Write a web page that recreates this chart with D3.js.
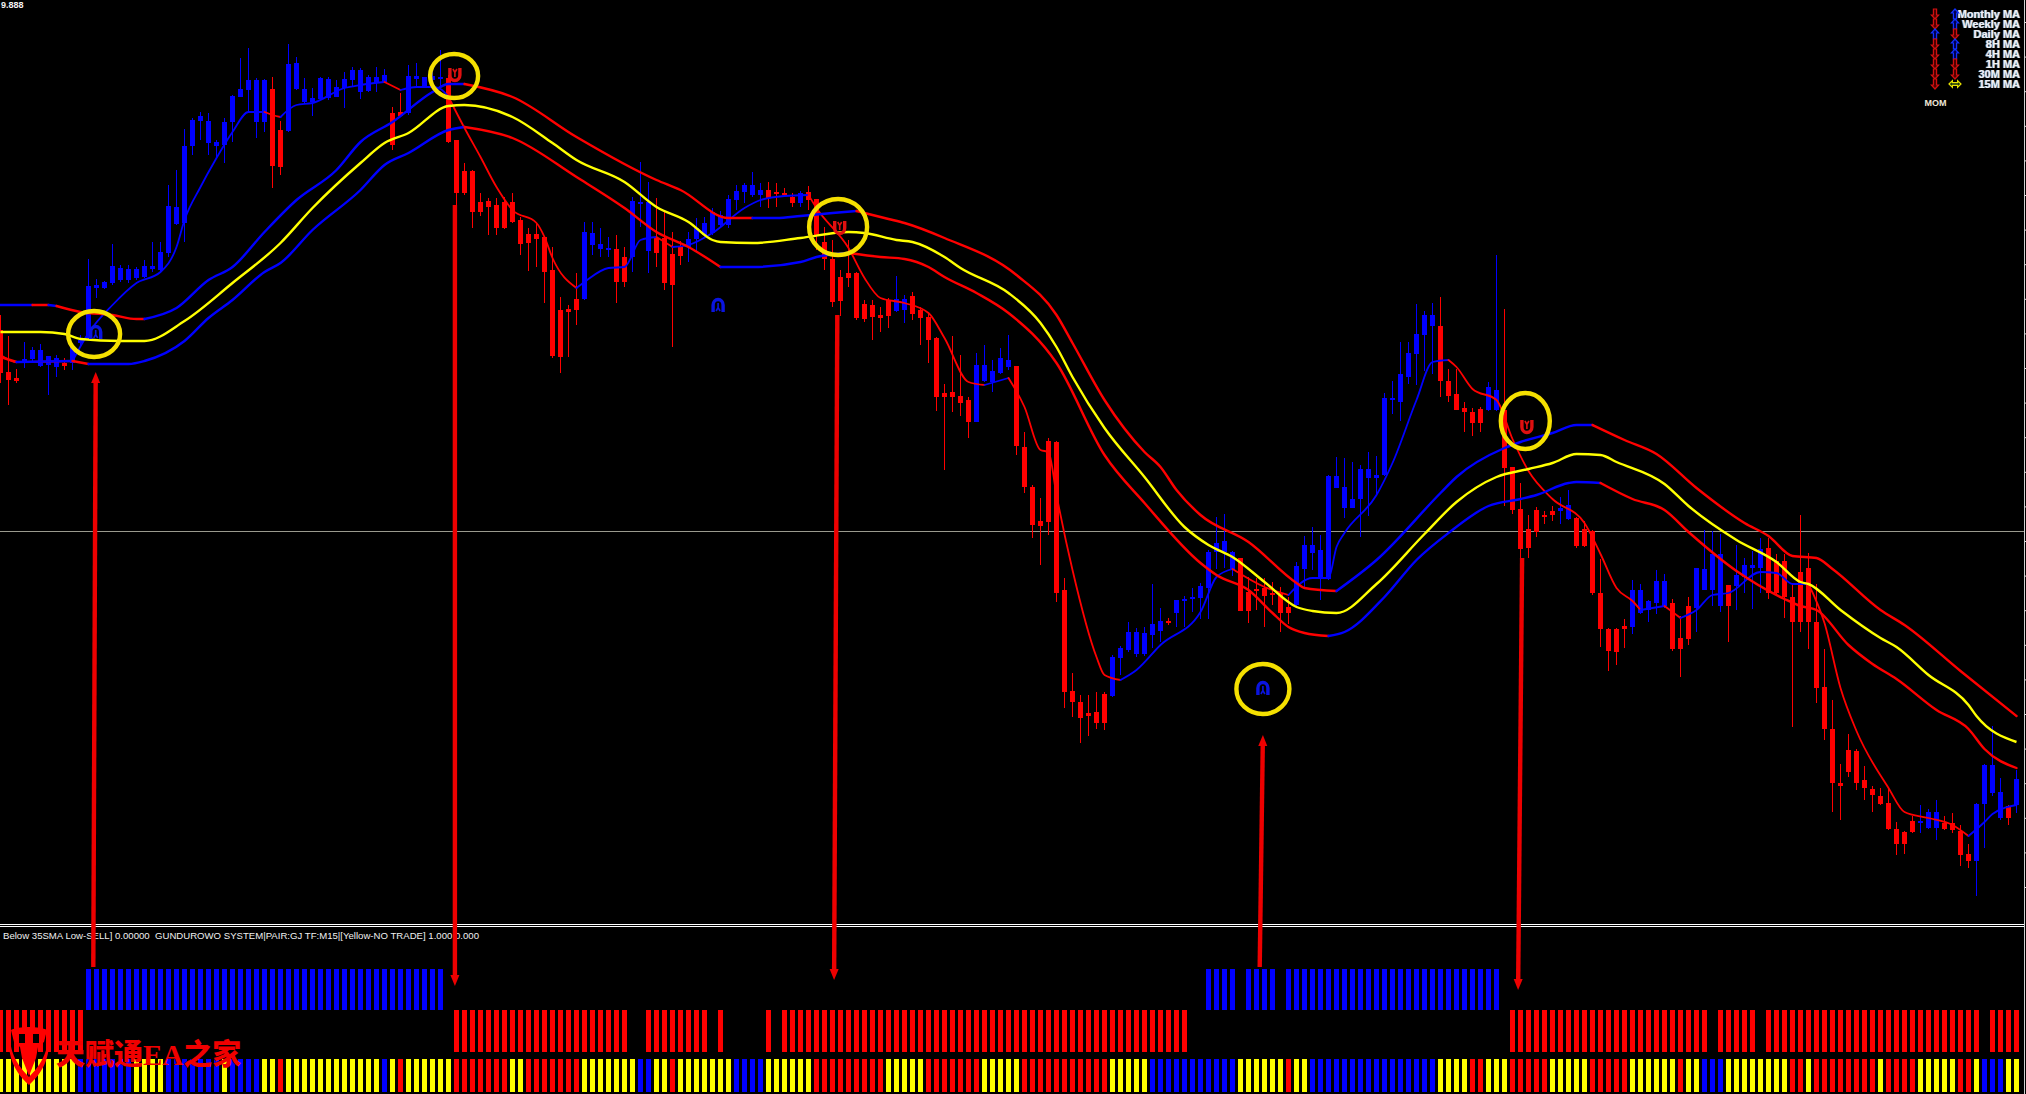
<!DOCTYPE html>
<html>
<head>
<meta charset="utf-8">
<script src="https://cdn.jsdelivr.net/npm/d3@7"></script>
<style>
html,body{margin:0;padding:0;background:#000;overflow:hidden}
svg{display:block}
</style>
</head>
<body>
<svg id="chart" width="2026" height="1094"></svg>
<script>
// ---------- candle data, in price points, one value per bar ----------
const candleDirection = (
"ddduuuuudu"+"uuuuuuuuuu"+"uuuuuuuuuu"+"uuuudduuuu"+"uuuuuuuuud"+"duuuuudddd"+"dddddddddd"+"ddduuuuddu"+
"uudddduuuu"+"uuuuuudddd"+"uddddddddd"+"dduudddddd"+"dduuuuuddd"+"dddddddddu"+"uuuuuuduuu"+"uuuuuddddd"+
"dduuuuuuuu"+"uuuuuuuuuu"+"dddddduudd"+"ddddduuddd"+"dddduuuuud"+"dduuuuduuu"+"uddddddddd"+"dddddddddd"+
"uuudddduuu"+"udu").split("");
const bodyHigh = [
670,628,622,641,650,650,644,642,637,653, 660,714,715,718,734,732,731,731,734,734,
748,794,793,854,880,884,879,858,878,904, 911,920,920,920,911,870,936,937,911,902,
922,921,913,921,930,930,923,923,925,887, 888,924,924,923,924,923,922,860,829,829,
798,799,795,798,798,780,766,766,763,730, 690,691,701,768,767,756,752,751,743,799,
798,798,762,762,746,753,761,772,777,788, 785,801,809,815,815,810,810,808,807,803,
807,808,801,758,741,723,727,727,696,695, 685,700,701,701,704,690,683,662,607,608,
604,600,635,635,629,642,640,634,553,513, 479,559,558,410,309,298,287,288,306,343,
352,368,368,367,376,379,379,400,401,403, 414,448,457,459,448,442,408,411,412,407,
407,393,434,455,455,450,524,524,513,501, 531,531,525,602,602,626,647,666,685,685,
674,619,606,592,588,591,613,610,590,533, 491,471,490,485,489,492,495,482,471,469,
407,371,371,374,410,410,399,419,419,397, 362,394,432,431,446,446,415,425,435,435,
451,452,439,439,403,428,432,378,313,271, 217,250,249,220,211,204,197,171,168,179,
179,188,188,177,177,169,146,196,235,235, 208,194,221];
const bodyLow = [
627,620,619,639,641,634,635,633,634,637, 657,662,712,712,717,720,720,722,723,731,
730,747,776,777,854,879,857,854,855,878, 903,910,878,878,834,833,869,911,898,898,
901,902,903,912,920,908,909,917,918,855, 884,887,921,912,920,921,858,807,807,788,
788,793,772,772,778,756,757,761,728,644, 643,688,690,701,755,751,750,718,718,743,
797,749,747,717,715,744,753,761,765,767, 775,775,800,808,805,805,802,806,805,797,
797,800,764,741,698,699,722,682,681,683, 682,684,689,690,686,682,660,603,603,603,
597,578,578,619,618,627,633,554,513,475, 474,478,407,308,298,282,284,277,277,304,
342,350,346,346,365,369,378,387,399,401, 402,412,448,448,430,389,389,409,404,405,
387,387,395,431,447,421,421,512,492,492, 501,522,522,525,600,598,623,646,665,674,
619,604,590,588,577,577,590,590,532,490, 451,452,468,483,485,489,481,454,454,407,
371,349,348,371,373,387,390,397,394,351, 351,361,392,410,410,394,394,414,423,432,
432,407,407,403,378,378,378,312,271,217, 214,228,217,212,205,196,171,156,156,168,
177,172,172,171,170,145,139,139,196,207, 182,182,195];
const wickHigh = [
685,664,631,658,653,656,644,645,642,655, 665,741,721,719,756,735,735,733,740,758,
758,815,830,871,882,888,887,860,882,905, 942,952,922,921,923,879,956,943,922,912,
923,923,920,928,933,932,925,933,931,893, 907,935,937,923,935,950,925,860,837,830,
807,802,802,803,807,783,772,777,763,753, 703,695,727,778,778,772,763,765,753,803,
838,818,802,790,768,759,768,782,783,792, 789,805,815,817,828,817,818,817,812,807,
809,814,801,773,760,730,760,728,700,700, 693,702,724,705,708,693,687,663,616,664,
645,603,647,655,640,652,665,634,568,515, 502,562,559,422,327,305,305,308,308,345,
354,378,372,373,416,392,382,400,404,412, 417,450,483,486,449,442,423,422,422,418,
413,403,438,464,473,465,525,543,542,538, 535,548,544,607,619,658,658,696,689,697,
703,631,631,598,592,593,618,745,691,533, 517,485,493,489,494,503,510,483,479,470,
441,372,372,381,420,416,400,430,426,401, 384,403,432,470,469,466,415,455,442,449,
462,462,446,446,416,485,447,416,351,300, 236,266,251,234,214,212,212,178,169,184,
195,191,200,184,187,175,156,197,236,274, 222,195,230];
const wickLow = [
617,595,617,632,638,633,605,623,630,630, 653,660,702,711,715,718,717,720,722,728,
728,743,775,758,845,860,845,843,837,858, 903,887,862,868,812,825,868,910,897,884,
900,900,903,892,913,901,908,908,917,850, 883,885,913,912,915,913,857,795,805,772,
784,765,765,771,777,745,729,733,697,642, 627,643,675,700,745,743,743,697,713,728,
773,727,733,710,653,735,738,748,762,765, 772,772,790,797,803,793,792,793,803,793,
793,790,750,730,693,684,713,680,678,660, 668,672,688,677,680,655,637,589,530,588,
584,562,578,618,608,626,630,545,507,462, 435,465,398,292,283,257,264,271,270,303,
325,348,343,344,352,358,375,373,373,388, 381,381,431,432,424,389,377,390,373,395,
368,376,394,412,430,400,420,512,482,492, 463,484,504,524,586,579,616,615,629,626,
603,598,590,568,564,568,589,589,494,486, 442,442,463,476,479,476,480,452,453,405,
353,329,335,352,366,386,378,386,392,349, 323,355,368,410,394,388,358,390,407,391,
407,401,405,382,273,368,351,297,260,188, 180,223,210,200,188,195,170,145,146,167,
167,171,160,170,167,134,132,104,152,204, 180,175,187];

// ---------- moving-average lines: bar number, price, colour changes ----------
const midIdx = [0,5,8,10,15,18,23,29,35,39,45,48,51,56,58,64,69,72,78,82,86,89,90,94,100,106,108,112,114,118,120,126,130,132,134,138,143,148,151,154,158,162,164,167,172,178,182,187,191,194,197,200,202,208,211,217,222,225,226,230,235,237,241,246,247,252];
const midVal = [668,668,666,661,659,659,679,717,757,792,837,857,867,894,895,883,857,840,818,793,778,760,758,757,762,768,767,760,758,743,732,707,677,653,623,572,523,473,455,443,418,393,389,387,416,466,498,523,531,537,546,545,538,516,494,460,438,418,416,390,362,353,325,295,284,258];

const upperIdx = [0,4,6,7,10,14,17,18,22,26,29,33,37,42,45,49,54,56,58,64,72,82,85,91,94,97,100,104,107,111,113,118,127,132,134,138,143,145,147,150,156,162,163,167,172,180,182,188,190,194,197,199,203,207,212,218,221,224,227,229,235,238,245,252];
const upperVal = [695,695,695,694,688,685,681,681,692,720,733,768,800,830,858,878,908,916,916,903,863,820,810,782,782,782,784,787,789,781,777,762,725,685,657,600,548,533,510,485,458,417,412,409,440,507,523,552,558,567,575,575,560,546,512,477,464,444,442,431,390,375,329,284];
const upperBreakIdx = [0,4,6,7,18,58,94,107,167,199];
const upperBreakTone = ["up","down","up","down","up","down","up","down","up","down"];

const lowerIdx = [0,2,9,11,16,18,23,26,29,33,35,39,45,48,51,56,58,64,72,78,82,86,90,94,100,102,106,110,113,116,118,122,126,132,138,143,150,152,156,159,161,163,166,168,173,177,181,186,190,192,196,197,200,204,208,211,217,223,225,227,231,234,237,242,246,248,252];
const lowerVal = [643,638,639,636,636,639,659,682,700,728,737,770,810,835,847,870,873,862,823,792,768,753,733,733,738,743,747,743,741,733,723,707,687,637,545,497,437,425,410,387,373,367,364,368,403,440,467,494,501,505,517,518,517,501,490,468,429,401,394,390,355,336,321,290,271,251,232];
const lowerBreakIdx = [0,2,9,11,58,90,106,166,200];
const lowerBreakTone = ["down","up","down","up","down","up","down","up","down"];

const fastIdx = [0,2,9,11,14,17,20,22,23,25,27,29,31,33,34,35,37,39,43,45,48,50,52,54,55,56,58,60,62,64,67,68,69,72,73,76,78,80,82,84,86,89,93,95,98,101,102,106,108,110,113,116,118,121,123,126,128,130,131,132,134,137,138,140,142,145,150,152,154,158,161,164,166,167,168,172,174,177,179,181,182,184,187,189,191,194,198,200,202,204,205,208,210,212,214,216,220,222,224,226,228,230,232,236,238,241,244,246,248,249,252];
const fastVal = [645,638,639,667,695,717,728,753,780,813,842,868,888,888,885,883,895,897,912,915,918,910,913,913,911,903,872,843,813,790,777,763,742,712,718,732,733,760,763,753,755,767,792,800,804,805,792,752,722,702,697,687,662,618,615,622,593,550,548,505,430,343,325,320,330,355,388,423,431,413,405,422,422,453,467,505,537,600,638,640,633,611,600,561,529,501,477,446,412,399,390,394,382,390,405,407,428,427,416,416,377,312,269,212,188,182,175,164,178,186,195];
const fastBreakIdx = [0,9,33,35,48,50,56,72,82,84,101,123,126,140,154,161,181,205,208,210,226,246];
const fastBreakTone = ["down","up","down","up","down","up","down","up","down","up","down","up","down","up","down","up","down","up","down","up","down","up"];

// ---------- horizontal price level and axis ----------
const priceLevel = 469;
const chartTopLabel = "9.888";

// ---------- signals, hand-drawn circles and arrows (bar number, price) ----------
const signalBar = [11.9,56.8,89.7,104.9,157.8,190.8];
const signalPrice = [667,926,694,773,311,574];
const signalDir = ["up","down","up","down","up","down"];
const ringBar = [11.7,56.7,104.7,157.8,190.6];
const ringPrice = [666,924,773,311,579];
const arrowFromBar = [11.6,56.8,104.6,157.4,190.2];
const arrowFromPrice = [33,795,685,33,442];
const arrowToBar = [11.9,56.8,104.2,157.8,189.7];
const arrowToPrice = [628,14,20,265,10];

// ---------- indicator window: inclusive bar runs ----------
const signalRuns = [[11,55],[151,154],[156,159],[161,187]];
const trendRuns = [[0,10],[57,78],[81,88],[90,90],[96,96],[98,148],[189,213],[215,219],[221,247],[249,252]];
const biasRuns = [
["y",0,9],["b",10,16],["y",17,20],["b",21,27],["y",28,28],["b",29,32],["y",33,34],["r",35,35],["y",36,47],["b",48,48],["y",49,49],["r",50,50],
["y",51,56],["r",57,63],["y",64,65],["r",66,72],["y",73,79],["b",80,81],["y",82,83],["r",84,84],["y",85,91],["b",92,95],["y",96,101],["r",102,110],
["y",111,115],["r",116,122],["y",123,127],["r",128,138],["y",139,143],["b",144,154],["y",155,160],["r",161,161],["y",162,163],["b",164,179],["y",180,183],
["r",184,185],["y",186,188],["r",189,193],["y",194,198],["r",199,203],["y",204,209],["r",210,210],["y",211,212],["b",213,215],["y",216,223],["r",224,225],
["y",226,226],["r",227,234],["y",235,235],["r",236,239],["y",240,244],["r",245,246],["y",247,247],["b",248,250],["y",251,252]];
const indicatorTitle = "Below 35SMA Low-SELL] 0.00000  GUNDUROWO SYSTEM|PAIR:GJ TF:M15|[Yellow-NO TRADE] 1.000 0.000";

// ---------- multi-timeframe panel ----------
const panelLabels = ["Monthly MA","Weekly MA","Daily MA","8H MA","4H MA","1H MA","30M MA","15M MA"];
const panelFirst = ["down","down","up","down","down","down","down","down"];
const panelSecond = ["up","up","down","up","up","down","down","flat"];
const panelFooter = "MOM";
const watermark = "天赋通EA之家";

// ---------- layout and style ----------
const W = 2026, H = 1094, paneBottom = 925;
const RED = "#ff0000", BLUE = "#0000ff", YELLOW = "#ffff00";
const toneColor = {up: BLUE, down: RED};
const laneColor = {r: RED, b: BLUE, y: YELLOW};
const svg = d3.select("#chart");

const x = d3.scaleLinear().domain([0,252]).range([0.5,2016.5]);
const y = d3.scaleLinear().domain([75,1000]).range([paneBottom,0]);
const bodyW = 5;

// price level
const gLevel = svg.append("g");
gLevel.append("line").attr("x1",0).attr("x2",2024).attr("y1",y(priceLevel)+0.5).attr("y2",y(priceLevel)+0.5)
  .attr("stroke","#9a9a8e").attr("stroke-width",1);

// candles
const bars = d3.range(bodyHigh.length);
const gC = svg.append("g").attr("shape-rendering","crispEdges");
gC.selectAll("line.w").data(bars).join("line").attr("class","w")
  .attr("x1",i=>x(i)).attr("x2",i=>x(i))
  .attr("y1",i=>y(wickHigh[i])).attr("y2",i=>y(wickLow[i]))
  .attr("stroke",i=>toneColor[candleDirection[i]==="u"?"up":"down"]).attr("stroke-width",1);
gC.selectAll("rect.b").data(bars).join("rect").attr("class","b")
  .attr("x",i=>x(i)-bodyW/2).attr("width",bodyW)
  .attr("y",i=>y(bodyHigh[i])).attr("height",i=>Math.max(1.5,y(bodyLow[i])-y(bodyHigh[i])))
  .attr("fill",i=>toneColor[candleDirection[i]==="u"?"up":"down"]);

// MA lines split by colour change
const lineGen = d3.line().x(d=>x(d[0])).y(d=>y(d[1])).curve(d3.curveMonotoneX);
function drawTonedLine(idx,val,breakIdx,breakTone,width){
  const g = svg.append("g").attr("fill","none").attr("stroke-width",width).attr("stroke-linecap","round").attr("stroke-linejoin","round");
  breakIdx.forEach((b,k)=>{
    const end = k+1<breakIdx.length?breakIdx[k+1]:Infinity;
    const pts = idx.map((v,j)=>[v,val[j]]).filter(p=>p[0]>=b&&p[0]<=end);
    g.append("path").datum(pts).attr("d",lineGen).attr("stroke",toneColor[breakTone[k]]);
  });
}
drawTonedLine(fastIdx,fastVal,fastBreakIdx,fastBreakTone,1.8);
drawTonedLine(upperIdx,upperVal,upperBreakIdx,upperBreakTone,2.4);
drawTonedLine(lowerIdx,lowerVal,lowerBreakIdx,lowerBreakTone,2.4);
svg.append("path").datum(midIdx.map((v,j)=>[v,midVal[j]])).attr("d",lineGen)
  .attr("fill","none").attr("stroke",YELLOW).attr("stroke-width",2.4).attr("stroke-linejoin","round");

// window separators + right axis
svg.append("line").attr("x1",0).attr("x2",2024).attr("y1",924.5).attr("y2",924.5).attr("stroke","#fff").attr("stroke-width",1);
svg.append("line").attr("x1",0).attr("x2",2024).attr("y1",926.5).attr("y2",926.5).attr("stroke","#fff").attr("stroke-width",1);
const axisG = svg.append("g").attr("transform","translate(2024.5,0)")
  .call(d3.axisRight(y).tickValues(d3.range(978,80,-34.6)).tickSize(2).tickFormat(""));
axisG.selectAll("line").attr("stroke","#e0e0e0");
axisG.select(".domain").remove();
svg.append("line").attr("x1",2024.5).attr("x2",2024.5).attr("y1",0).attr("y2",H).attr("stroke","#d0d0d0").attr("stroke-width",1);

// indicator lanes
const lanes = svg.append("g").attr("shape-rendering","crispEdges");
const laneW = 5.4;
function laneRects(runs,color,top,h){
  runs.forEach(r=>{
    lanes.selectAll(null).data(d3.range(r[0],r[1]+1)).join("rect")
      .attr("x",i=>x(i)-laneW/2).attr("width",laneW).attr("y",top).attr("height",h).attr("fill",color);
  });
}
laneRects(signalRuns,BLUE,969,41);
laneRects(trendRuns,RED,1010,42);
biasRuns.forEach(r=>laneRects([[r[1],r[2]]],laneColor[r[0]],1059,33));

// text
const sans = "'Liberation Sans',Arial,sans-serif";
svg.append("text").attr("x",1).attr("y",8).attr("font-family",sans).attr("font-size",9).attr("font-weight",700).attr("fill","#f2f2f2").text(chartTopLabel);
svg.append("text").attr("x",3).attr("y",939).attr("font-family",sans).attr("font-size",9.6).attr("fill","#f0f0f0").attr("xml:space","preserve").style("white-space","pre").text(indicatorTitle);

// panel
const rowY = d3.scalePoint().domain(panelLabels).range([14,84]);
const panel = svg.append("g");
panel.selectAll("text.l").data(panelLabels).join("text").attr("class","l")
  .attr("x",2020).attr("y",d=>rowY(d)+4).attr("text-anchor","end")
  .attr("font-family",sans).attr("font-weight",700).attr("font-size",11).attr("fill","#eef2f2")
  .style("text-shadow","0.7px 0 0 #2f78d0,-0.7px 0 0 #a87c48").text(d=>d);
const arrowUp = "M0,-5 L3.6,-1 L1.6,-1 L1.6,5 L-1.6,5 L-1.6,-1 L-3.6,-1 Z";
const arrowFlat = "M-6,0 L-2.6,-3.4 L-2.6,-1.4 L2.6,-1.4 L2.6,-3.4 L6,0 L2.6,3.4 L2.6,1.4 L-2.6,1.4 L-2.6,3.4 Z";
function panelColumn(list,cx){
  panel.selectAll(null).data(list).join("path")
    .attr("d",d=>d==="flat"?arrowFlat:arrowUp)
    .attr("transform",(d,i)=>`translate(${cx},${rowY(panelLabels[i])})${d==="down"?" rotate(180)":""}`)
    .attr("fill",d=>d==="up"?"#000050":d==="down"?"#500000":"#103010")
    .attr("stroke",d=>d==="up"?"#1030ff":d==="down"?"#d01010":"#e8e000").attr("stroke-width",1.2);
}
panelColumn(panelFirst,1935);
panelColumn(panelSecond,1955);
panel.append("text").attr("x",1935.5).attr("y",106).attr("text-anchor","middle").attr("font-family",sans)
  .attr("font-weight",700).attr("font-size",9).attr("fill","#f0e8d8").text(panelFooter);

// signal glyphs
const gS = svg.append("g");
signalBar.forEach((b,k)=>{
  const c = signalDir[k]==="up"?"#0a14e0":"#e01010";
  const g = gS.append("g").attr("transform",`translate(${x(b)},${y(signalPrice[k])})${signalDir[k]==="up"?"":" scale(1,-1)"}`);
  g.append("path").attr("d","M-5,6 V-1 A5,5.5 0 0 1 5,-1 V6").attr("fill","none").attr("stroke",c).attr("stroke-width",3.4);
  g.append("path").attr("d","M0,-3 V3 M-2,5 L0,1.5 L2,5").attr("fill","none").attr("stroke",c).attr("stroke-width",1.6);
});

// rings
const ringRx = [26,24,29,26.5,24.5], ringRy = [23,22,28,25,28];
svg.append("g").selectAll("ellipse").data(ringBar).join("ellipse")
  .attr("cx",(d,i)=>x(d)).attr("cy",(d,i)=>y(ringPrice[i]))
  .attr("rx",(d,i)=>ringRx[i]).attr("ry",(d,i)=>ringRy[i])
  .attr("fill","none").attr("stroke","#f5e000").attr("stroke-width",4.4);

// hand-drawn arrows
const gA = svg.append("g");
arrowFromBar.forEach((b,k)=>{
  const x1=x(b), y1=y(arrowFromPrice[k]), x2=x(arrowToBar[k]), y2=y(arrowToPrice[k]);
  const len=Math.hypot(x2-x1,y2-y1), ux=(x2-x1)/len, uy=(y2-y1)/len;
  const headL=11, headW=4.5;
  const bx=x2-ux*headL, by=y2-uy*headL;
  gA.append("line").attr("x1",x1).attr("y1",y1).attr("x2",bx).attr("y2",by).attr("stroke","#ee0000").attr("stroke-width",4.4);
  gA.append("path").attr("d",`M${x2},${y2} L${bx-uy*headW},${by+ux*headW} L${bx+uy*headW},${by-ux*headW} Z`).attr("fill","#ee0000");
});

// watermark logo + text
const wm = svg.append("g").attr("fill",RED);
wm.append("path").attr("d","M11,1027 C6,1048 10,1068 29,1085 C48,1068 52,1048 47,1027 C50,1044 46,1060 29,1077 C12,1060 8,1044 11,1027 Z");
wm.append("path").attr("d","M11,1030 C18,1026 40,1026 47,1030 L44,1042 L38,1047 L36,1058 L29,1076 L22,1058 L20,1047 L14,1042 Z");
wm.append("path").attr("d","M19,1034 H25 V1043 H19 Z M33,1034 H39 V1043 H33 Z").attr("fill","#000");
svg.append("text").attr("x",56).attr("y",1065).attr("font-family","'Liberation Serif','Noto Sans CJK SC',serif")
  .attr("font-weight",900).attr("font-size",29).attr("fill","#f00000").text(watermark);
</script>
</body>
</html>
